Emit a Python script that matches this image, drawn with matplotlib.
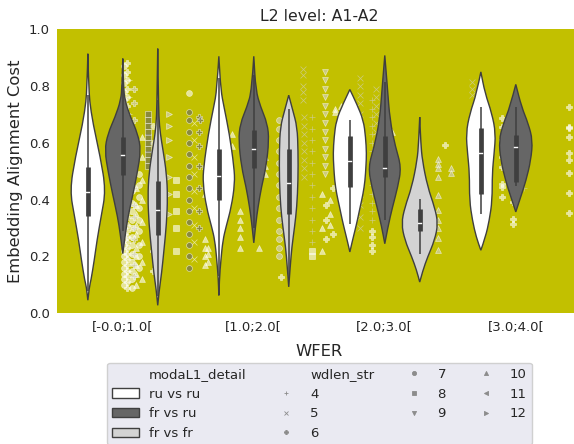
import matplotlib
matplotlib.use("Agg")
import matplotlib.pyplot as plt
from matplotlib.patches import Patch, PathPatch
from matplotlib.path import Path
from matplotlib.lines import Line2D

# Categories
wfer_bins = ["[-0.0;1.0[", "[1.0;2.0[", "[2.0;3.0[", "[3.0;4.0["]
modal_levels = ["ru vs ru", "fr vs ru", "fr vs fr"]
wdlen_levels = ["4", "5", "6", "7", "8", "9", "10", "11", "12"]

# Violin density profiles (cost value, relative width), one list per WFER bin
ruru_y = [
    [0.914, 0.86, 0.80, 0.75, 0.668, 0.55, 0.433, 0.339, 0.257, 0.187, 0.116, 0.093, 0.046],
    [0.905, 0.785, 0.727, 0.633, 0.515, 0.457, 0.374, 0.304, 0.257, 0.187, 0.12, 0.063],
    [0.788, 0.738, 0.68, 0.62, 0.562, 0.52, 0.468, 0.42, 0.374, 0.33, 0.292, 0.25, 0.216],
    [0.85, 0.775, 0.704, 0.634, 0.56, 0.493, 0.398, 0.327, 0.268, 0.222],
]
ruru_w = [
    [0, 0.02, 0.06, 0.09, 0.28, 0.68, 0.98, 0.72, 0.5, 0.35, 0.17, 0.08, 0],
    [0, 0.11, 0.28, 0.57, 0.83, 0.87, 0.68, 0.39, 0.22, 0.11, 0.03, 0],
    [0, 0.37, 0.74, 0.86, 0.91, 0.88, 0.83, 0.72, 0.56, 0.42, 0.28, 0.12, 0],
    [0, 0.23, 0.6, 0.81, 0.72, 0.62, 0.62, 0.46, 0.25, 0],
]
frru_y = [
    [0.897, 0.80, 0.75, 0.691, 0.633, 0.574, 0.492, 0.421, 0.339, 0.28, 0.21],
    [0.905, 0.785, 0.727, 0.668, 0.609, 0.515, 0.445, 0.374, 0.316, 0.248],
    [0.908, 0.797, 0.68, 0.586, 0.515, 0.445, 0.374, 0.304, 0.245],
    [0.806, 0.726, 0.668, 0.609, 0.539, 0.468, 0.41, 0.357],
]
frru_w = [
    [0, 0.04, 0.11, 0.42, 0.81, 0.99, 0.78, 0.56, 0.28, 0.14, 0],
    [0, 0.11, 0.37, 0.74, 0.83, 0.67, 0.42, 0.23, 0.11, 0],
    [0, 0.14, 0.28, 0.58, 0.9, 0.71, 0.42, 0.17, 0],
    [0, 0.32, 0.68, 0.92, 0.82, 0.56, 0.27, 0],
]
frfr_y = [
    [0.932, 0.80, 0.691, 0.633, 0.574, 0.492, 0.41, 0.316, 0.222, 0.14, 0.081, 0.028],
    [0.768, 0.715, 0.656, 0.574, 0.468, 0.374, 0.304, 0.233, 0.163, 0.093],
    [0.691, 0.60, 0.539, 0.445, 0.374, 0.316, 0.257, 0.198, 0.151, 0.11],
    None,
]
frfr_w = [
    [0, 0.03, 0.06, 0.14, 0.29, 0.48, 0.54, 0.48, 0.34, 0.21, 0.08, 0],
    [0, 0.22, 0.46, 0.51, 0.51, 0.44, 0.32, 0.17, 0.08, 0],
    [0, 0.06, 0.14, 0.43, 0.81, 1.0, 0.81, 0.43, 0.17, 0],
    None,
]

# Inner box stats per bin
ruru_q1 = [0.342, 0.40, 0.445, 0.421]
ruru_med = [0.427, 0.482, 0.536, 0.565]
ruru_q3 = [0.515, 0.58, 0.623, 0.654]
ruru_lo = [0.08, 0.13, 0.315, 0.351]
ruru_hi = [0.77, 0.83, 0.682, 0.726]

frru_q1 = [0.488, 0.51, 0.48, 0.462]
frru_med = [0.559, 0.579, 0.512, 0.586]
frru_q3 = [0.621, 0.647, 0.623, 0.629]
frru_lo = [0.29, 0.30, 0.327, 0.448]
frru_hi = [0.82, 0.84, 0.814, 0.726]

frfr_q1 = [0.275, 0.351, 0.289, None]
frfr_med = [0.363, 0.459, 0.318, None]
frfr_q3 = [0.466, 0.58, 0.366, None]
frfr_lo = [0.06, 0.12, 0.21, None]
frfr_hi = [0.75, 0.72, 0.404, None]

# Individual points: (WFER position, wdlen, cost values)
ruru_pts = [
    (0.013, "7", [0.10, 0.12, 0.14, 0.16, 0.18, 0.20, 0.22, 0.24, 0.26, 0.28, 0.30, 0.33, 0.36, 0.39, 0.42,
                  0.45, 0.48, 0.51, 0.54, 0.57, 0.60, 0.63, 0.66, 0.69, 0.72, 0.75, 0.78, 0.81, 0.84, 0.87]),
    (0.035, "6", [0.09, 0.11, 0.13, 0.15, 0.17, 0.19, 0.21, 0.23, 0.25, 0.27, 0.29, 0.31, 0.34, 0.37, 0.40,
                  0.70, 0.73, 0.76, 0.79, 0.82, 0.85, 0.88]),
    (0.051, "4", [0.11, 0.15, 0.19, 0.23, 0.27, 0.31, 0.35, 0.40, 0.46, 0.52, 0.58, 0.64, 0.70, 0.76, 0.82]),
    (0.072, "7", [0.09, 0.12, 0.15, 0.18, 0.21, 0.24, 0.27, 0.30, 0.33, 0.36, 0.39, 0.43, 0.47]),
    (0.100, "10", [0.10, 0.14, 0.17, 0.20, 0.23, 0.28, 0.31, 0.35, 0.38, 0.44]),
    (0.120, "7", [0.16, 0.20, 0.24, 0.29, 0.33, 0.37, 0.41, 0.45, 0.49]),
    (0.150, "10", [0.12, 0.18, 0.25, 0.32, 0.40, 0.47, 0.55, 0.62]),
    (0.227, "6", [0.15, 0.22, 0.30, 0.38, 0.46, 0.53, 0.60, 0.66]),
    (0.410, "8", [0.22, 0.30, 0.36, 0.42, 0.47]),
    (0.509, "7", [0.775]),
    (0.540, "5", [0.19, 0.25, 0.31, 0.37, 0.43, 0.49, 0.55, 0.61, 0.67]),
    (0.624, "10", [0.17, 0.20, 0.23, 0.26, 0.42, 0.52]),
    (0.654, "10", [0.18, 0.21, 0.23]),
    (0.837, "10", [0.63, 0.59]),
    (0.898, "10", [0.36, 0.33, 0.30, 0.27, 0.23]),
    (1.036, "10", [0.23]),
    (1.089, "10", [0.49, 0.52, 0.55]),
    (1.204, "6", [0.127]),
    (1.448, "8", [0.22, 0.20]),
    (1.524, "10", [0.42, 0.30, 0.22]),
    (1.555, "6", [0.38, 0.26, 0.33]),
    (1.585, "10", [0.35, 0.31, 0.40]),
    (1.608, "6", [0.44, 0.28]),
    (1.623, "10", [0.72, 0.71]),
    (1.662, "10", [0.73]),
    (1.906, "6", [0.29, 0.27, 0.24, 0.22]),
    (2.058, "10", [0.64]),
    (2.073, "10", [0.53]),
    (2.456, "6", [0.592]),
    (2.898, "6", [0.686, 0.656, 0.609, 0.55, 0.515, 0.457, 0.445, 0.41]),
    (2.982, "6", [0.392, 0.333, 0.316]),
    (3.410, "6", [0.725, 0.655, 0.651, 0.62, 0.563, 0.539, 0.493, 0.423, 0.352]),
]
frru_pts = [
    (0.196, "8", [0.52, 0.54, 0.56, 0.58, 0.60, 0.62, 0.64, 0.66, 0.68, 0.70]),
    (0.502, "7", [0.16, 0.20, 0.24, 0.28, 0.32, 0.36, 0.40, 0.44, 0.48, 0.52, 0.56, 0.60, 0.64, 0.68, 0.71]),
    (0.578, "6", [0.30, 0.36, 0.44, 0.52, 0.59, 0.64, 0.69]),
    (0.593, "6", [0.68]),
]
frfr_pts = [
    (0.089, "6", [0.13, 0.17, 0.21, 0.26, 0.30, 0.34, 0.38, 0.44, 0.50, 0.56, 0.62, 0.68, 0.74, 0.79]),
    (0.349, "12", [0.35, 0.42, 0.48, 0.55, 0.61, 0.66, 0.70]),
    (1.196, "7", [0.20, 0.23, 0.26, 0.29, 0.33, 0.37, 0.41, 0.45, 0.49, 0.53, 0.57, 0.61, 0.65, 0.68]),
    (1.372, "5", [0.86, 0.84, 0.80, 0.78, 0.75]),
    (1.380, "5", [0.69, 0.66, 0.63, 0.60, 0.57, 0.54, 0.51, 0.48]),
    (1.448, "4", [0.25, 0.29, 0.33, 0.37, 0.41, 0.45, 0.49, 0.53, 0.57, 0.61, 0.65, 0.69]),
    (1.540, "9", [0.85, 0.82, 0.79, 0.76, 0.73, 0.70, 0.67, 0.64, 0.61, 0.58, 0.55, 0.52, 0.49]),
    (1.814, "5", [0.83, 0.80, 0.77, 0.74, 0.70, 0.66, 0.62, 0.58, 0.54, 0.50, 0.46, 0.42, 0.38, 0.34, 0.30]),
    (1.906, "4", [0.75, 0.72, 0.69, 0.66, 0.63, 0.60, 0.57, 0.54, 0.51, 0.48, 0.45, 0.42, 0.39, 0.36, 0.33]),
    (1.936, "5", [0.79, 0.76, 0.73, 0.70, 0.67, 0.64]),
    (2.410, "10", [0.545, 0.527, 0.51, 0.48, 0.416, 0.363, 0.33, 0.30, 0.265, 0.224]),
    (2.502, "10", [0.51, 0.493]),
    (2.662, "5", [0.815, 0.791, 0.768]),
    (3.059, "4", [0.44]),
]

# Styles
hue_colors = {"ru vs ru": "#ffffff", "fr vs ru": "#666666", "fr vs fr": "#d3d3d3"}
hue_offsets = {"ru vs ru": -0.2667, "fr vs ru": 0.0, "fr vs fr": 0.2667}
wdlen_markers = {"4": "+", "5": "x", "6": "P", "7": "o", "8": "s", "9": "v", "10": "^", "11": "<", "12": ">"}
LINE_COL = "#3f3f3f"
TEXT_COL = "#262626"
HALF_W = 0.14


def smooth_side(pts):
    # quadratic bezier through midpoints, so the outline looks like a kde curve
    verts = [pts[0], ((pts[0][0] + pts[1][0]) / 2, (pts[0][1] + pts[1][1]) / 2)]
    codes = [Path.MOVETO, Path.LINETO]
    for i in range(1, len(pts) - 1):
        if i < len(pts) - 2:
            end = ((pts[i][0] + pts[i + 1][0]) / 2, (pts[i][1] + pts[i + 1][1]) / 2)
        else:
            end = pts[-1]
        verts += [pts[i], end]
        codes += [Path.CURVE3, Path.CURVE3]
    return verts, codes


def violin_path(xc, ys, ws):
    right = [(xc + w * HALF_W, y) for y, w in zip(ys, ws)]
    left = [(xc - w * HALF_W, y) for y, w in zip(ys, ws)][::-1]
    v1, c1 = smooth_side(right)
    v2, c2 = smooth_side(left)
    verts = v1 + v2[1:] + [v1[0]]
    codes = c1 + c2[1:] + [Path.CLOSEPOLY]
    codes[len(c1)] = Path.LINETO
    return Path(verts, codes)


fig = plt.figure(figsize=(5.74, 4.44), dpi=100)
ax = fig.add_axes([0.0998, 0.2944, 0.9129, 0.6396])
ax.set_facecolor("#c2c000")
for s in ax.spines.values():
    s.set_visible(False)

# Points (underneath the violins)
for hue, pts in [("ru vs ru", ruru_pts), ("fr vs ru", frru_pts), ("fr vs fr", frfr_pts)]:
    for xpos, wd, ys in pts:
        ax.scatter([xpos] * len(ys), ys, marker=wdlen_markers[wd], s=18, color=hue_colors[hue],
                   edgecolors="white", linewidths=0.5, alpha=0.6, zorder=1)

# Violins with inner box
series = {
    "ru vs ru": (ruru_y, ruru_w, ruru_q1, ruru_med, ruru_q3, ruru_lo, ruru_hi),
    "fr vs ru": (frru_y, frru_w, frru_q1, frru_med, frru_q3, frru_lo, frru_hi),
    "fr vs fr": (frfr_y, frfr_w, frfr_q1, frfr_med, frfr_q3, frfr_lo, frfr_hi),
}
for hue, (ys_all, ws_all, q1s, meds, q3s, los, his) in series.items():
    for i in range(len(wfer_bins)):
        if ys_all[i] is None:
            continue
        xc = i + hue_offsets[hue]
        patch = PathPatch(violin_path(xc, ys_all[i], ws_all[i]), facecolor=hue_colors[hue],
                          edgecolor=LINE_COL, linewidth=1.0, zorder=2)
        ax.add_patch(patch)
        ax.plot([xc, xc], [los[i], his[i]], color=LINE_COL, lw=1.1, zorder=3, solid_capstyle="butt")
        ax.plot([xc, xc], [q1s[i], q3s[i]], color=LINE_COL, lw=3.4, zorder=3, solid_capstyle="butt")
        ax.plot([xc - 0.012, xc + 0.012], [meds[i], meds[i]], color="white", lw=1.0, zorder=4)

ax.set_xlim(-0.5, 3.5)
ax.set_ylim(0, 1)
ax.set_xticks(range(len(wfer_bins)))
ax.set_xticklabels(wfer_bins)
ax.set_yticks([0.0, 0.2, 0.4, 0.6, 0.8, 1.0])
ax.tick_params(length=0, labelsize=9.5, colors=TEXT_COL, pad=5.5)
ax.set_xlabel("WFER", fontsize=11.8, color=TEXT_COL, labelpad=7)
ax.set_ylabel("Embedding Alignment Cost", fontsize=11.8, color=TEXT_COL)
ax.set_title("L2 level: A1-A2", fontsize=11.3, color=TEXT_COL)

# Legend
blank = Line2D([], [], linestyle="", marker="")
handles = [blank] + [Patch(facecolor=hue_colors[h], edgecolor=LINE_COL, linewidth=1.0) for h in modal_levels]
labels = ["modaL1_detail"] + modal_levels
handles.append(blank)
labels.append("wdlen_str")
for wd in wdlen_levels:
    handles.append(Line2D([], [], linestyle="", marker=wdlen_markers[wd], color="#8c8c8c",
                          markersize=3, markeredgewidth=0.6))
    labels.append(wd)
leg = ax.legend(handles, labels, loc="upper center", bbox_to_anchor=(0.5, -0.151), ncol=4,
                fontsize=9.5, frameon=True, facecolor="#eaeaf2", edgecolor="#d0d0d0",
                framealpha=1, labelspacing=0.5)
for t in leg.get_texts():
    t.set_color(TEXT_COL)

fig.savefig("out.png", dpi=100)
